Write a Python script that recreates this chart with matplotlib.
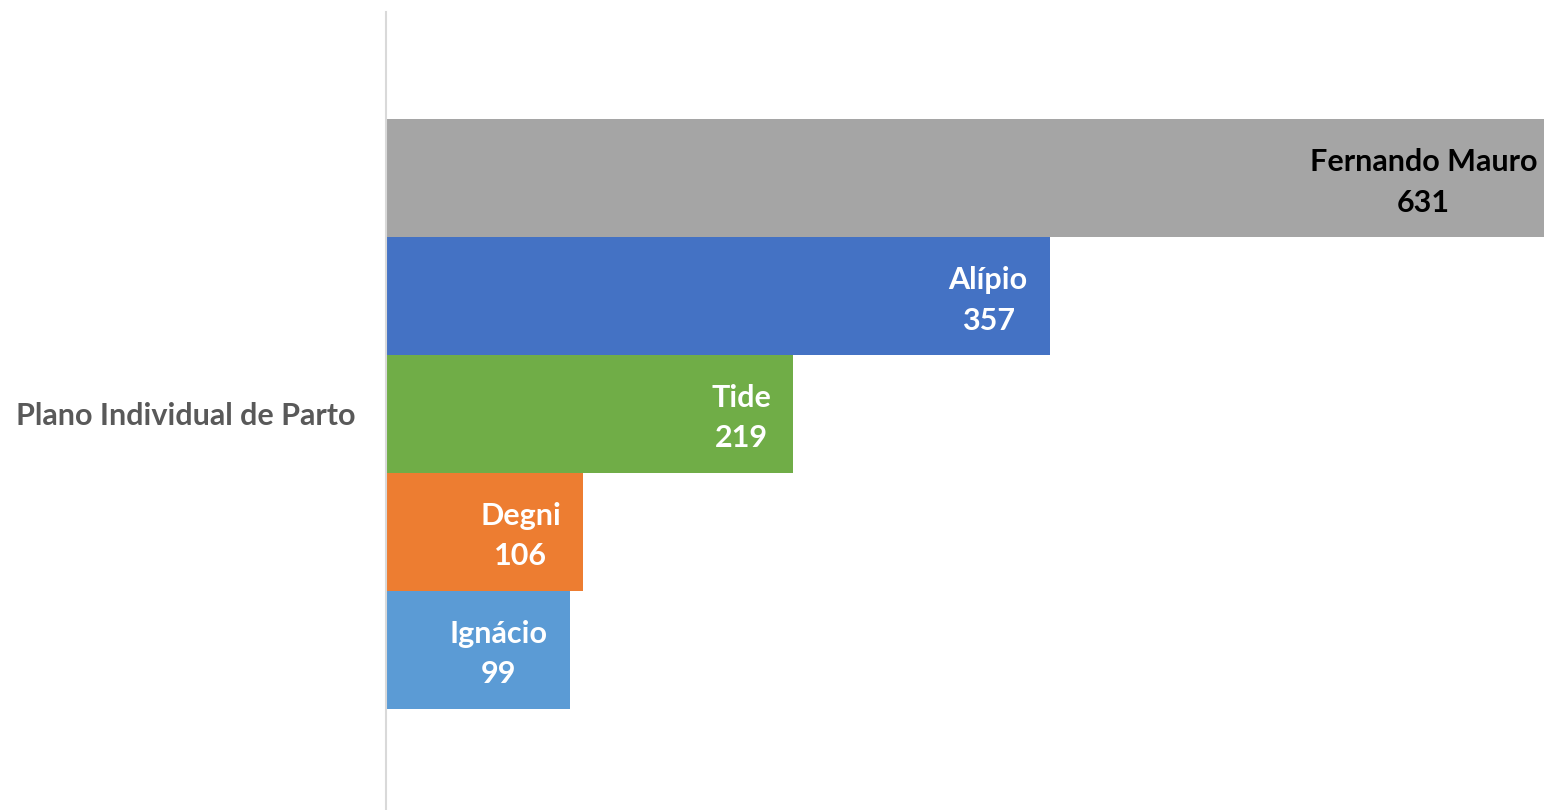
import matplotlib.pyplot as plt

# dados do gráfico
categoria = 'Plano Individual de Parto'
nomes = ['Ignácio', 'Degni', 'Tide', 'Alípio', 'Fernando Mauro']
valores = [99, 106, 219, 357, 631]
cores = ['#5B9BD5', '#ED7D31', '#70AD47', '#4472C4', '#A5A5A5']
cor_texto = ['white', 'white', 'white', 'white', 'black']

plt.rcParams['font.family'] = ['Lato', 'DejaVu Sans']

fig = plt.figure(figsize=(15.44, 8.10), dpi=100)
ax = fig.add_axes([386 / 1544, 0, 1 - 386 / 1544, 798 / 810])

posicoes = list(range(len(nomes)))
ax.barh(posicoes, valores, height=1.0, color=cores)

for y, v, n, c in zip(posicoes, valores, nomes, cor_texto):
    ax.annotate(f'{n}\n{v}', xy=(v, y), xytext=(-16, -3), textcoords='offset points',
                ha='right', va='center', multialignment='center', color=c,
                fontsize=22, fontweight='bold', linespacing=1.55, annotation_clip=False)

ax.set_xlim(0, 622.6)
ax.set_ylim(-1.36, 5.41)
ax.set_xticks([])
ax.set_yticks([])
for lado in ['top', 'right', 'bottom']:
    ax.spines[lado].set_visible(False)
ax.spines['left'].set_color('#D9D9D9')
ax.spines['left'].set_linewidth(1.5)

fig.text(356 / 1544, 1 - 416 / 810, categoria, ha='right', va='center',
         fontsize=22, fontweight='bold', color='#595959')

fig.savefig('out.png', dpi=100)
